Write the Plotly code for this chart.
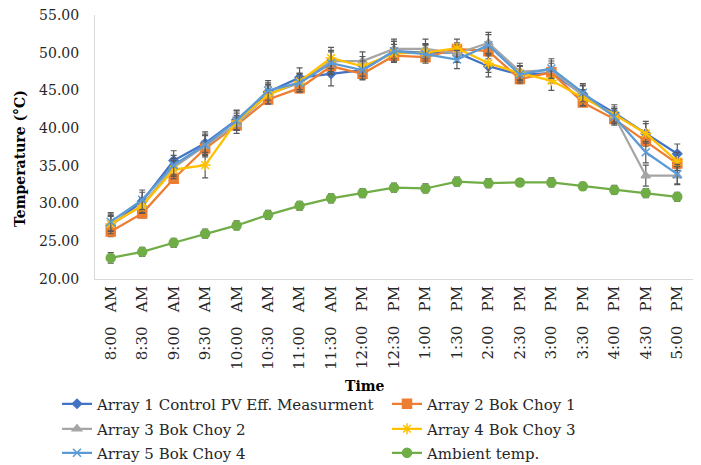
import plotly.graph_objects as go

times = ["8:00 AM", "8:30 AM", "9:00 AM", "9:30 AM", "10:00 AM", "10:30 AM",
         "11:00 AM", "11:30 AM", "12:00 PM", "12:30 PM", "1:00 PM", "1:30 PM",
         "2:00 PM", "2:30 PM", "3:00 PM", "3:30 PM", "4:00 PM", "4:30 PM", "5:00 PM"]
tick_labels = [t.replace(" ", "\u00a0" * 3) for t in times]

array1 = [27.1, 30.3, 35.7, 38.0, 41.1, 44.8, 46.7, 47.2, 47.7, 50.2, 50.0, 50.0,
          48.2, 47.1, 47.3, 44.5, 42.0, 39.3, 36.6]
array2 = [26.3, 28.7, 33.3, 37.3, 40.4, 43.8, 45.3, 48.2, 47.2, 49.6, 49.4, 50.5,
          50.2, 46.5, 47.4, 43.4, 41.2, 38.3, 35.3]
array3 = [27.2, 29.8, 34.8, 37.6, 40.5, 44.5, 46.0, 48.9, 48.9, 50.5, 50.5, 49.9,
          51.3, 47.5, 47.7, 44.3, 41.6, 33.7, 33.7]
array4 = [27.3, 29.7, 34.5, 35.1, 40.9, 44.4, 46.2, 49.3, 48.2, 49.9, 50.0, 50.6,
          48.6, 47.3, 46.3, 44.0, 41.8, 39.3, 35.6]
array5 = [27.6, 30.5, 35.1, 37.8, 41.0, 45.0, 46.0, 48.6, 47.7, 50.2, 49.8, 49.1,
          51.0, 47.1, 47.9, 44.7, 41.5, 36.8, 33.9]
ambient = [22.8, 23.6, 24.8, 26.0, 27.1, 28.5, 29.7, 30.7, 31.4, 32.1, 32.0, 32.9,
           32.7, 32.8, 32.8, 32.3, 31.8, 31.4, 30.9]

err1 = [1.5, 1.2, 1.3, 1.5, 1.3, 1.2, 1.3, 1.6, 1.3, 1.3, 1.2, 1.3, 1.4, 1.2, 1.3, 1.2, 1.1, 1.6, 1.3]
err2 = [0.6, 0.6, 0.6, 0.7, 0.7, 0.5, 0.6, 1.0, 0.6, 0.7, 0.5, 0.5, 1.0, 0.5, 0.6, 0.5, 0.6, 0.7, 0.6]
err3 = [1.2, 1.0, 1.2, 1.4, 1.2, 1.3, 1.2, 1.4, 1.2, 1.3, 1.3, 1.1, 1.4, 1.1, 1.2, 1.3, 1.0, 1.4, 1.2]
err4 = [1.0, 1.0, 1.2, 1.7, 1.1, 1.2, 1.1, 1.4, 1.3, 1.2, 1.1, 1.2, 1.2, 1.0, 1.3, 1.1, 1.0, 1.3, 1.2]
err5 = [1.2, 1.3, 1.3, 1.4, 1.3, 1.3, 1.2, 1.5, 1.2, 1.3, 1.2, 1.2, 1.4, 1.1, 1.3, 1.2, 1.1, 1.4, 1.3]
err_amb = [0.7, 0.6, 0.6, 0.6, 0.6, 0.6, 0.6, 0.6, 0.6, 0.6, 0.6, 0.6, 0.6, 0.5, 0.6, 0.5, 0.6, 0.6, 0.6]

names = ["Array 1 Control PV Eff. Measurment", "Array 2 Bok Choy 1", "Array 3 Bok Choy 2",
         "Array 4 Bok Choy 3", "Array 5 Bok Choy 4", "Ambient temp."]
colors = ["#4472C4", "#ED7D31", "#A5A5A5", "#FFC000", "#5B9BD5", "#70AD47"]
symbols = ["diamond", "square", "triangle-up", "asterisk-open", "x-thin-open", "circle"]
sizes = [7, 9, 8, 9, 8, 9]
series = [array1, array2, array3, array4, array5, ambient]
errors = [err1, err2, err3, err4, err5, err_amb]

FONT = "DejaVu Serif"
OFF = 8                     # page body margin
W, H = 701 - OFF, 465 - OFF
PL, PR, PT, PB = 95, 693, 15, 279   # plot area in page pixels
ml, mt = PL - OFF, PT - OFF
mr, mb = W - (PR - OFF), H - (PB - OFF)
pw, ph = PR - PL, PB - PT

# legend slots (page px): text-left x, row centre y
col_x = [97, 427]
row_y = [404, 429, 453]
legend_ids = ["legend"] + [f"legend{i}" for i in range(2, 7)]

fig = go.Figure()
for i, (name, col, sym, sz, ys, er) in enumerate(zip(names, colors, symbols, sizes, series, errors)):
    fig.add_trace(go.Scatter(
        x=times, y=ys, name=name, mode="lines+markers", legend=legend_ids[i],
        line=dict(color=col, width=2.25),
        marker=dict(color=col, symbol=sym, size=sz, line=dict(color=col, width=1.5)),
        error_y=dict(type="data", array=er, visible=True, color="#595959",
                     thickness=1.2, width=3),
    ))

legends = {}
for i, lid in enumerate(legend_ids):
    r, c = divmod(i, 2)
    legends[lid] = dict(
        orientation="h", xref="container", yref="container",
        x=(col_x[c] - OFF - 40) / W, y=1 - (row_y[r] - OFF) / H,
        xanchor="left", yanchor="middle", itemwidth=30,
        font=dict(family=FONT, size=15, color="#262626"),
        itemclick=False, itemdoubleclick=False, bgcolor="rgba(0,0,0,0)",
    )

fig.update_layout(
    width=W, height=H,
    paper_bgcolor="white", plot_bgcolor="white",
    margin=dict(l=ml, r=mr, t=mt, b=mb, autoexpand=False),
    font=dict(family=FONT, size=14, color="#262626"),
    showlegend=True,
    annotations=[
        dict(text="<b>Time</b>", xref="paper", yref="paper",
             x=(365 - PL) / pw, y=-(386 - PB) / ph,
             xanchor="center", yanchor="middle", showarrow=False,
             font=dict(family=FONT, size=14, color="#000000")),
        dict(text="<b>Temperature (°C)</b>", xref="paper", yref="paper",
             x=-(PL - 20) / pw, y=(PB - 159) / ph,
             xanchor="center", yanchor="middle", showarrow=False, textangle=-90,
             font=dict(family=FONT, size=14, color="#000000")),
    ],
    **legends,
)
fig.update_xaxes(
    type="category", range=[-0.5, len(times) - 0.5], tickangle=-90, showgrid=False,
    automargin=False, tickmode="array", tickvals=times, ticktext=tick_labels,
    showline=True, linecolor="#D9D9D9", linewidth=1, ticklabeloverflow="allow",
    ticks="", tickfont=dict(family=FONT, size=15, color="#262626"),
)
fig.update_yaxes(
    range=[20, 55], dtick=5, tick0=20, tickformat=".2f", showgrid=False,
    showline=True, linecolor="#D9D9D9", linewidth=1, zeroline=False, automargin=False,
    ticks="", ticklabelstandoff=12, ticklabeloverflow="allow",
    tickfont=dict(family=FONT, size=14, color="#262626"),
)

fig.write_html("out.html")
